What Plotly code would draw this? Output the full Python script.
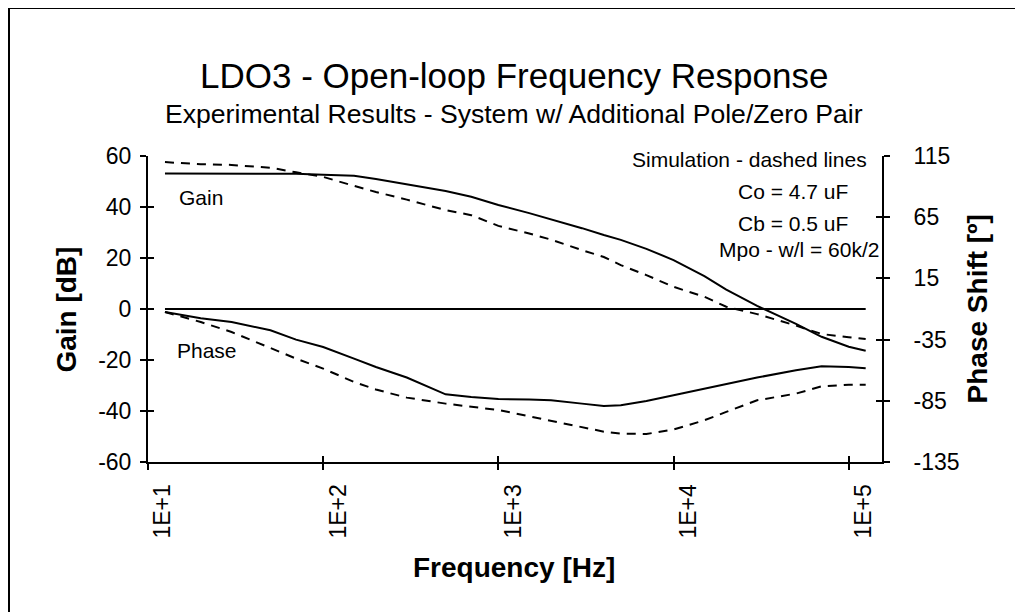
import plotly.graph_objects as go

# ---- data ----
freq_hz = [12.5, 20, 30, 50, 70, 100, 150, 200, 300, 500, 700, 1000, 1500, 2000,
           3000, 4000, 5000, 7000, 10000, 15000, 20000, 30000, 50000, 70000,
           100000, 125000]

gain_measured_db = [53.1, 53.1, 53.1, 53.1, 53.0, 52.6, 52.3, 51.0, 49.0, 46.3,
                    44.0, 40.8, 37.6, 35.2, 31.7, 29.0, 27.1, 23.6, 19.2, 12.9,
                    7.6, 1.2, -5.8, -10.9, -14.8, -16.4]

gain_simulated_db = [57.6, 56.8, 56.5, 55.4, 53.6, 51.8, 48.3, 45.9, 42.9, 38.8,
                     36.8, 32.6, 29.6, 27.2, 23.1, 20.4, 17.2, 13.3, 8.7, 4.8,
                     0.9, -2.0, -6.5, -9.8, -11.1, -11.8]

phase_measured_deg = [-12.5, -17.6, -20.6, -27.4, -35.0, -41.0, -50.5, -57.4,
                      -66.0, -79.7, -81.9, -83.6, -84.0, -84.6, -87.3, -89.2,
                      -88.7, -85.2, -80.5, -75.0, -71.0, -66.0, -60.1, -56.8,
                      -57.4, -58.4]

phase_simulated_deg = [-12.5, -20.6, -28.8, -41.5, -50.5, -58.7, -69.6, -75.8,
                       -82.4, -87.3, -90.1, -92.5, -97.7, -101.5, -106.9, -110.2,
                       -111.8, -112.1, -108.5, -100.9, -94.1, -84.6, -79.1, -73.2,
                       -71.8, -71.8]

zero_line_db = [0] * len(freq_hz)

x_tick_vals = [10, 100, 1000, 10000, 100000]
x_tick_text = ["1E+1", "1E+2", "1E+3", "1E+4", "1E+5"]
gain_tick_vals = [60, 40, 20, 0, -20, -40, -60]
gain_tick_text = ["60", "40", "20", "0", "-20", "-40", "-60"]
phase_tick_vals = [115, 65, 15, -35, -85, -135]
phase_tick_text = ["115", "65", "15", "-35", "-85", "-135"]

# ---- figure ----
FONT = "Liberation Sans, Arial, sans-serif"
BLACK = "#000000"

fig = go.Figure()

solid = dict(color=BLACK, width=2)
dashed = dict(color=BLACK, width=2, dash="9px,7px")

fig.add_trace(go.Scatter(x=freq_hz, y=zero_line_db, mode="lines", line=solid,
                         xaxis="x", yaxis="y", hoverinfo="skip"))
fig.add_trace(go.Scatter(x=freq_hz, y=gain_simulated_db, mode="lines", line=dashed,
                         xaxis="x", yaxis="y", name="Gain (sim)"))
fig.add_trace(go.Scatter(x=freq_hz, y=gain_measured_db, mode="lines", line=solid,
                         xaxis="x", yaxis="y", name="Gain"))
fig.add_trace(go.Scatter(x=freq_hz, y=phase_simulated_deg, mode="lines", line=dashed,
                         xaxis="x", yaxis="y2", name="Phase (sim)"))
fig.add_trace(go.Scatter(x=freq_hz, y=phase_measured_deg, mode="lines", line=solid,
                         xaxis="x", yaxis="y2", name="Phase"))
# empty traces to carry the "inside" half of the crossing tick marks
fig.add_trace(go.Scatter(x=[], y=[], xaxis="x2", yaxis="y3", hoverinfo="skip"))
fig.add_trace(go.Scatter(x=[], y=[], xaxis="x2", yaxis="y4", hoverinfo="skip"))

x_range = [1, 5.19]
tickfont = dict(family=FONT, size=23, color=BLACK)

# the page body adds an 8px offset; the figure is sized so that it fits the
# 1023x612 window and the plot area sits at screen x 148..882, y 156..462
fig.update_layout(
    width=1015, height=604,
    margin=dict(l=140, r=141, t=148, b=150, pad=0),
    paper_bgcolor="white", plot_bgcolor="white",
    showlegend=False,
    xaxis=dict(type="log", range=x_range, tickvals=x_tick_vals, ticktext=x_tick_text,
               tickangle=-90, ticks="outside", ticklen=6, tickwidth=2, tickcolor=BLACK,
               showline=True, linewidth=2, linecolor=BLACK, showgrid=False,
               zeroline=False, tickfont=tickfont, ticklabelshift=15,
               ticklabelstandoff=5, anchor="y"),
    xaxis2=dict(type="log", range=x_range, overlaying="x", tickvals=x_tick_vals,
                ticks="inside", ticklen=6, tickwidth=2, tickcolor=BLACK,
                showticklabels=False, showline=False, showgrid=False,
                zeroline=False, anchor="y3"),
    yaxis=dict(range=[-60, 60], tickvals=gain_tick_vals, ticktext=gain_tick_text,
               ticks="outside", ticklen=6, tickwidth=2, tickcolor=BLACK,
               showline=True, linewidth=2, linecolor=BLACK, showgrid=False,
               zeroline=False, tickfont=tickfont, ticklabelstandoff=4),
    yaxis2=dict(range=[-135, 115], tickvals=phase_tick_vals, ticktext=phase_tick_text,
                overlaying="y", side="right", anchor="x",
                ticks="outside", ticklen=6, tickwidth=2, tickcolor=BLACK,
                showline=True, linewidth=2, linecolor=BLACK, showgrid=False,
                zeroline=False, tickfont=tickfont, ticklabelstandoff=19),
    yaxis3=dict(range=[-60, 60], tickvals=gain_tick_vals, overlaying="y",
                ticks="inside", ticklen=6, tickwidth=2, tickcolor=BLACK,
                showticklabels=False, showline=False, showgrid=False, zeroline=False),
    yaxis4=dict(range=[-135, 115], tickvals=phase_tick_vals, overlaying="y",
                side="right", ticks="inside", ticklen=6, tickwidth=2, tickcolor=BLACK,
                showticklabels=False, showline=False, showgrid=False, zeroline=False),
)

def ann(text, x, y, size, xanchor="center", bold=False, angle=0):
    fig.add_annotation(text=f"<b>{text}</b>" if bold else text,
                       x=x, y=y, xref="paper", yref="paper",
                       xanchor=xanchor, yanchor="middle", showarrow=False,
                       textangle=angle,
                       font=dict(family=FONT, size=size, color=BLACK))

# titles
ann("LDO3 - Open-loop Frequency Response", 0.4986, 1.263, 35)
ann("Experimental Results - System w/ Additional Pole/Zero Pair", 0.4986, 1.138, 26.6)
# axis titles
ann("Gain [dB]", -0.1108, 0.497, 28, bold=True, angle=-90)
ann("Phase Shift [º]", 1.130, 0.500, 28, bold=True, angle=-90)
ann("Frequency [Hz]", 0.4986, -0.345, 28, bold=True)
# in-plot labels
ann("Gain", 0.0395, 0.866, 21, xanchor="left")
ann("Phase", 0.0368, 0.363, 21, xanchor="left")
ann("Simulation - dashed lines", 0.9823, 0.990, 21, xanchor="right")
ann("Co = 4.7 uF", 0.9564, 0.883, 21, xanchor="right")
ann("Cb = 0.5 uF", 0.9564, 0.781, 21, xanchor="right")
ann("Mpo - w/l = 60k/2", 0.9986, 0.693, 21, xanchor="right")

# outer frame: only its left and top edges are visible in the reference
frame_left = (9 - 148) / 734
frame_top = (462 - 8) / 306
frame = dict(color=BLACK, width=2)
fig.add_shape(type="line", xref="paper", yref="paper", layer="below",
              x0=frame_left, x1=frame_left, y0=frame_top, y1=(462 - 640) / 306,
              line=frame)
fig.add_shape(type="line", xref="paper", yref="paper", layer="below",
              x0=frame_left, x1=(1040 - 148) / 734, y0=frame_top, y1=frame_top,
              line=frame)

fig.write_html("out.html")
